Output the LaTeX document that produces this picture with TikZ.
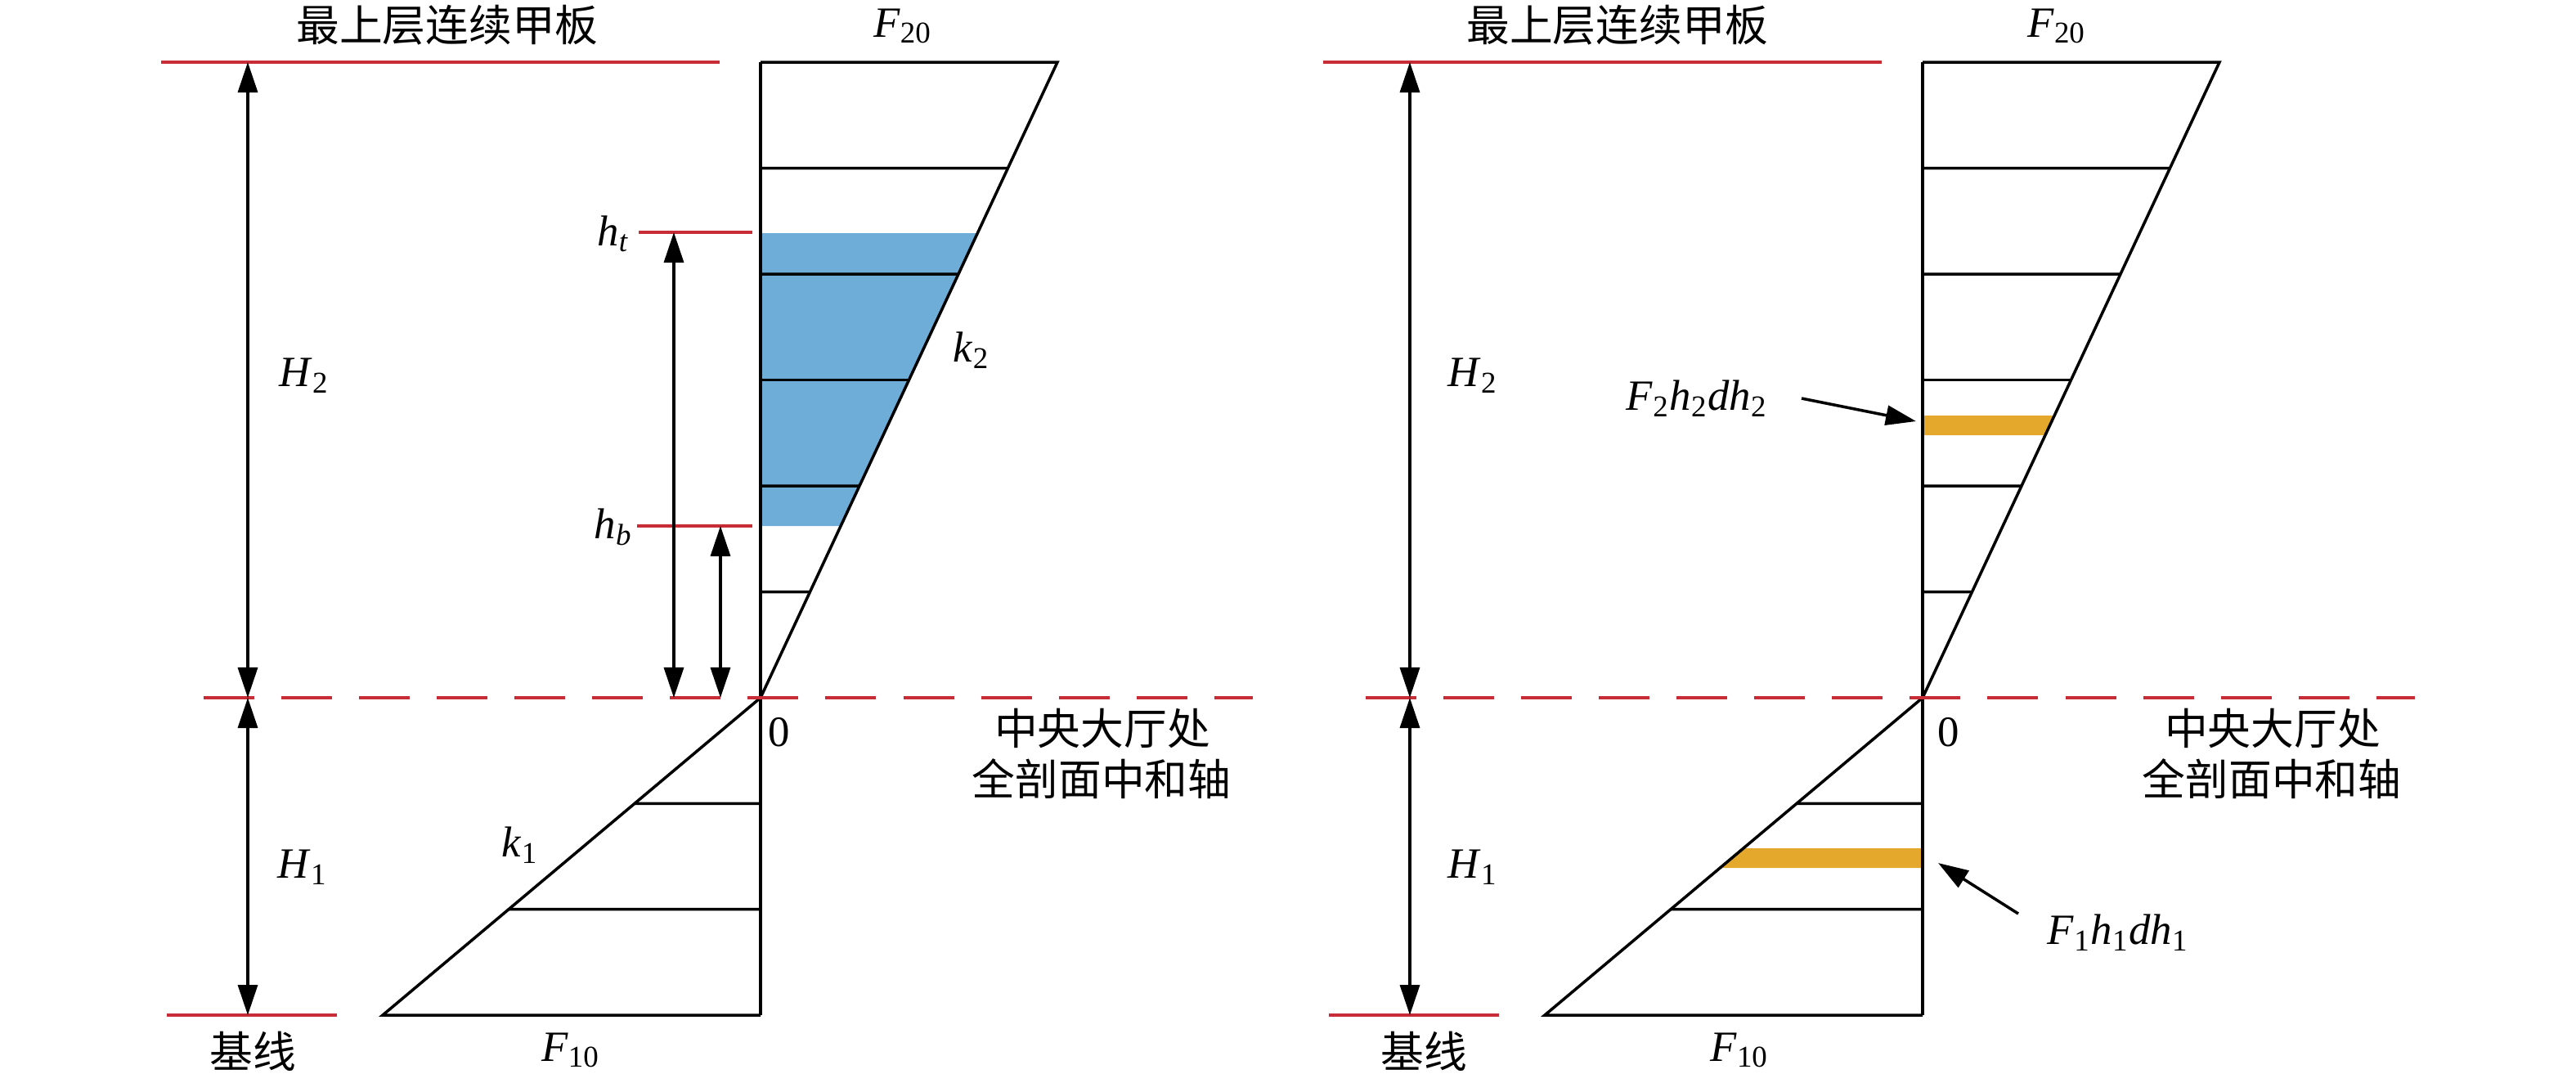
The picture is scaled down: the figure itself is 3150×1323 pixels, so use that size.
\documentclass[tikz,border=0pt]{standalone}
\usepackage{fontspec}
\setmainfont{Liberation Serif}
\newfontfamily\cjk{Noto Sans CJK SC}
\usepackage{xcolor}
\definecolor{deckred}{RGB}{200, 45, 55}
\definecolor{zoneblue}{RGB}{111, 173, 217}
\definecolor{stripgold}{RGB}{228, 168, 44}
\usetikzlibrary{arrows.meta, calc}
\tikzstyle{frame} = [line width=1pt, black]
\tikzstyle{redline} = [line width=1.4pt, deckred]
\tikzstyle{axisline} = [line width=1.4pt, deckred, dash pattern=on 0.62cm off 0.33cm]
\tikzstyle{dimarrow} = [line width=0.95pt, {Triangle[length=3.7mm,width=2.4mm]}-{Triangle[length=3.7mm,width=2.4mm]}]
\tikzstyle{ptrarrow} = [line width=1pt, -{Triangle[length=3.7mm,width=2.4mm]}]
\tikzstyle{lbl} = [inner sep=0pt, font=\fontsize{15pt}{18pt}\selectfont]
\tikzstyle{cnlbl} = [inner sep=0pt, font=\fontsize{15pt}{18pt}\selectfont\cjk]
\newcommand{\symlbl}[2]{\textit{#1}\textsubscript{#2}}

\begin{document}
\begin{tikzpicture}[x=0.01cm, y=-0.01cm]
    \useasboundingbox (0,0) rectangle (3150,1323);

    % left panel
    \coordinate (oL) at (930,853);
    \coordinate (tL) at (1293,76);
    \coordinate (bL) at (468,1241);
    \fill[zoneblue] (930,285) -- ($(oL)!568/777!(tL)$) -- ($(oL)!210/777!(tL)$) -- (930,643) -- cycle;
    \draw[frame] (930,76) -- (930,1241);
    \draw[frame] (930,76) -- (tL) -- (oL) -- (bL) -- (930,1241);
    \foreach \i in {1,...,5}
        \draw[frame] (930,853-\i*129.5) -- ($(oL)!\i/6!(tL)$);
    \foreach \i in {1,2}
        \draw[frame] (930,853+\i*129.33) -- ($(oL)!\i/3!(bL)$);

    \draw[redline] (197,76) -- (880,76);
    \draw[redline] (204,1241) -- (412,1241);
    \draw[redline] (781,284) -- (920,284);
    \draw[redline] (779,643) -- (920,643);
    \draw[axisline] (249,853) -- (1532,853);

    \coordinate (deckL) at (303,76);
    \coordinate (axisL) at (303,853);
    \coordinate (baseL) at (303,1241);
    \coordinate (htop) at (824,284);
    \coordinate (htopaxis) at (824,853);
    \coordinate (hbot) at (881,643);
    \coordinate (hbotaxis) at (881,853);
    \draw[dimarrow] (deckL) -- (axisL);
    \draw[dimarrow] (axisL) -- (baseL);
    \draw[dimarrow] (htop) -- (htopaxis);
    \draw[dimarrow] (hbot) -- (hbotaxis);

    \node[cnlbl] (deckL-txt) at (547,31) {最上层连续甲板};
    \node[lbl] (f20L) at (1104,32) {\symlbl{F}{20}};
    \node[lbl] (htL) at (750,286) {\symlbl{h}{\textit{t}}};
    \node[lbl] (hbL) at (750,644) {\symlbl{h}{\textit{b}}};
    \node[lbl] (k2L) at (1188,428) {\symlbl{k}{2}};
    \node[lbl] (h2L) at (372,459) {\symlbl{H}{2}};
    \node[lbl] (zeroL) at (953,895) {0};
    \node[cnlbl] (hallL) at (1348,890) {中央大厅处};
    \node[cnlbl] (axisL-txt) at (1347,952) {全剖面中和轴};
    \node[lbl] (k1L) at (636,1033) {\symlbl{k}{1}};
    \node[lbl] (h1L) at (370,1060) {\symlbl{H}{1}};
    \node[cnlbl] (baseL-txt) at (309,1285) {基线};
    \node[lbl] (f10L) at (698,1284) {\symlbl{F}{10}};

    % right panel
    \coordinate (oR) at (2351,853);
    \coordinate (tR) at (2714,76);
    \coordinate (bR) at (1889,1241);
    \fill[stripgold] (2351,508) -- ($(oR)!345/777!(tR)$) -- ($(oR)!321/777!(tR)$) -- (2351,532) -- cycle;
    \fill[stripgold] (2351,1037) -- ($(oR)!184/388!(bR)$) -- ($(oR)!208/388!(bR)$) -- (2351,1061) -- cycle;
    \draw[frame] (2351,76) -- (2351,1241);
    \draw[frame] (2351,76) -- (tR) -- (oR) -- (bR) -- (2351,1241);
    \foreach \i in {1,...,5}
        \draw[frame] (2351,853-\i*129.5) -- ($(oR)!\i/6!(tR)$);
    \foreach \i in {1,2}
        \draw[frame] (2351,853+\i*129.33) -- ($(oR)!\i/3!(bR)$);

    \draw[redline] (1618,76) -- (2301,76);
    \draw[redline] (1625,1241) -- (1833,1241);
    \draw[axisline] (1670,853) -- (2953,853);

    \coordinate (deckR) at (1724,76);
    \coordinate (axisR) at (1724,853);
    \coordinate (baseR) at (1724,1241);
    \draw[dimarrow] (deckR) -- (axisR);
    \draw[dimarrow] (axisR) -- (baseR);

    \node[cnlbl] (deckR-txt) at (1978,31) {最上层连续甲板};
    \node[lbl] (f20R) at (2515,32) {\symlbl{F}{20}};
    \node[lbl] (h2R) at (1801,459) {\symlbl{H}{2}};
    \node[lbl] (stripU) at (2075,487) {\symlbl{F}{2}\symlbl{h}{2}\symlbl{dh}{2}};
    \node[lbl] (zeroR) at (2383,895) {0};
    \node[cnlbl] (hallR) at (2779,890) {中央大厅处};
    \node[cnlbl] (axisR-txt) at (2778,952) {全剖面中和轴};
    \node[lbl] (h1R) at (1801,1060) {\symlbl{H}{1}};
    \node[lbl] (stripD) at (2590,1140) {\symlbl{F}{1}\symlbl{h}{1}\symlbl{dh}{1}};
    \node[cnlbl] (baseR-txt) at (1741,1285) {基线};
    \node[lbl] (f10R) at (2127,1284) {\symlbl{F}{10}};

    \coordinate (tailU) at (2203,487);
    \coordinate (tipU) at (2343,515);
    \coordinate (tailD) at (2468,1117);
    \coordinate (tipD) at (2370,1055);
    \draw[ptrarrow] (tailU) -- (tipU);
    \draw[ptrarrow] (tailD) -- (tipD);
\end{tikzpicture}
\end{document}
